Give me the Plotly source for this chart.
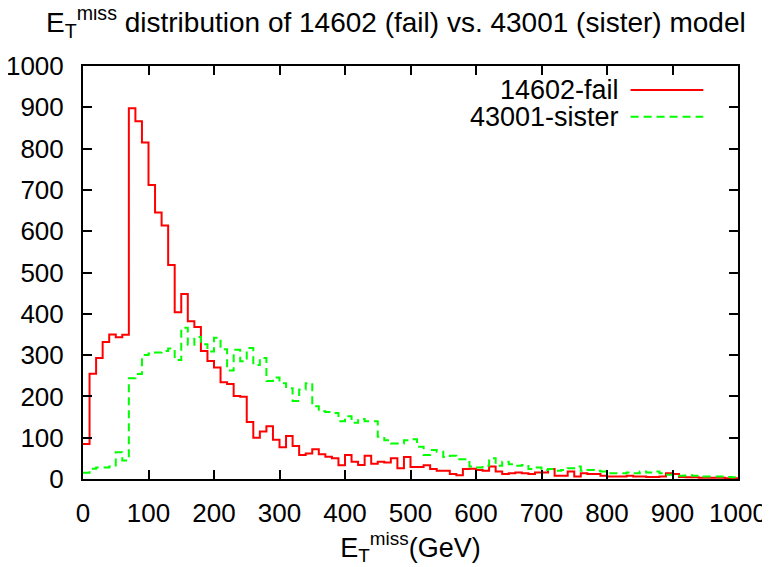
import plotly.graph_objects as go

# 10 GeV bins from 0 to 1000 GeV
bin_edges = list(range(0, 1001, 10))

fail_14602 = [
    85, 255, 293, 332, 350, 343, 349, 898, 866, 815,
    712, 645, 614, 518, 404, 448, 382, 368, 310, 286,
    270, 234, 230, 201, 199, 138, 100, 115, 128, 95,
    77, 104, 80, 58, 62, 72, 60, 54, 50, 33,
    58, 42, 34, 56, 37, 42, 40, 50, 26, 53,
    29, 29, 33, 24, 20, 20, 12, 9, 24, 25,
    22, 20, 30, 18, 12, 14, 16, 14, 12, 16,
    16, 24, 8, 8, 18, 6, 14, 12, 12, 8,
    6, 6, 6, 8, 6, 6, 5, 5, 6, 14,
    12, 5, 4, 4, 3, 3, 3, 3, 2, 2,
]

sister_43001 = [
    15, 25, 28, 28, 30, 65, 45, 244, 254, 300,
    304, 306, 310, 316, 288, 366, 325, 344, 326, 309,
    342, 314, 263, 313, 285, 317, 276, 293, 237, 246,
    232, 220, 189, 217, 232, 176, 164, 162, 160, 140,
    152, 136, 145, 140, 140, 102, 94, 86, 86, 94,
    96, 78, 58, 70, 66, 53, 56, 48, 48, 30,
    28, 32, 50, 32, 42, 36, 32, 34, 24, 28,
    22, 24, 20, 22, 26, 30, 20, 22, 20, 18,
    14, 14, 14, 16, 14, 18, 16, 18, 14, 10,
    10, 8, 9, 8, 6, 6, 6, 6, 5, 4,
]

series_names = ["14602-fail", "43001-sister"]
tick_vals = list(range(0, 1001, 100))

FONT = "Liberation Sans"
RED = "#ff0000"
GREEN = "#00ff00"

fig = go.Figure()

# step histograms: value holds until the next bin edge
fig.add_trace(go.Scatter(
    x=bin_edges, y=fail_14602 + [fail_14602[-1]],
    mode="lines", line=dict(color=RED, width=2, shape="hv"),
    name=series_names[0], showlegend=False,
))
fig.add_trace(go.Scatter(
    x=bin_edges, y=sister_43001 + [sister_43001[-1]],
    mode="lines", line=dict(color=GREEN, width=2, shape="hv", dash="8px,5px"),
    name=series_names[1], showlegend=False,
))

# gnuplot-style key: label on the left, line sample on the right
key_rows = [(0.942, RED, "solid"), (0.877, GREEN, "8px,5px")]
for name, (ky, col, dash) in zip(series_names, key_rows):
    fig.add_annotation(
        x=0.822, y=ky, xref="paper", yref="paper", text=name,
        showarrow=False, xanchor="right", yanchor="middle",
        font=dict(family=FONT, size=27, color="black"),
    )
    fig.add_shape(
        type="line", xref="paper", yref="paper",
        x0=0.836, x1=0.947, y0=ky, y1=ky,
        line=dict(color=col, width=2, dash=dash),
    )

axis_style = dict(
    range=[0, 1000], tickvals=tick_vals, ticks="inside", ticklen=9,
    tickwidth=1.5, tickcolor="black", showline=True, linecolor="black",
    linewidth=2, mirror="allticks", showgrid=False, zeroline=False,
    tickfont=dict(family=FONT, size=26, color="black"),
    automargin=False,
)

# page body adds an 8px offset, so the figure is 8px smaller than the window
fig.update_layout(
    width=762, height=559,
    margin=dict(l=75, r=32, t=58, b=88),
    paper_bgcolor="white", plot_bgcolor="white",
    title=dict(
        text="E<sub>T</sub><sup>miss</sup> distribution of 14602 (fail) vs. 43001 (sister) model",
        x=0.509, xanchor="center", y=0.975, yanchor="middle",
        font=dict(family=FONT, size=28, color="black"),
    ),
    xaxis=dict(axis_style, ticklabelstandoff=10, title=dict(
        text="E<sub>T</sub><sup>miss</sup>(GeV)", standoff=4,
        font=dict(family=FONT, size=27, color="black"))),
    yaxis=dict(axis_style, ticklabelstandoff=12),
)

fig.write_html("out.html")
